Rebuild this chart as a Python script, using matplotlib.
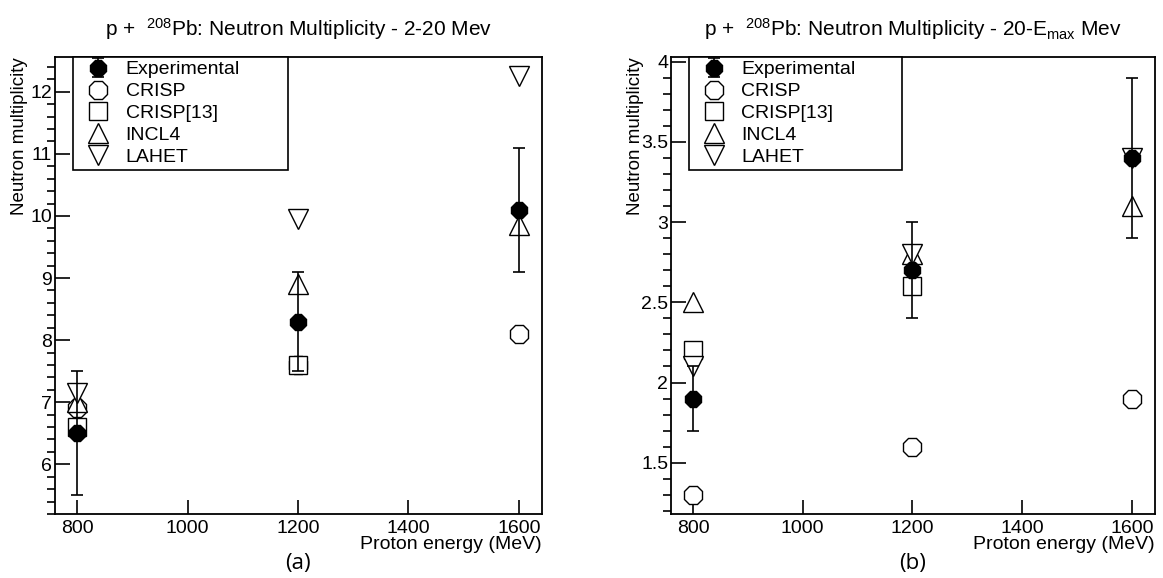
import matplotlib
matplotlib.use('Agg')
import matplotlib.pyplot as plt

plt.rcParams['font.family'] = ['Liberation Sans', 'DejaVu Sans']
plt.rcParams['mathtext.fontset'] = 'custom'
plt.rcParams['mathtext.rm'] = 'Liberation Sans'
plt.rcParams['mathtext.it'] = 'Liberation Sans:italic'

# beam energies (MeV)
energy = [800, 1200, 1600]
energy_crisp13 = [800, 1200]

# (a) 2-20 MeV neutrons
exp_a = [6.5, 8.3, 10.1]
exp_err_a = [1.0, 0.8, 1.0]
crisp_a = [6.9, 7.6, 8.1]
crisp13_a = [6.6, 7.6]
incl4_a = [7.0, 8.9, 9.85]
lahet_a = [7.15, 9.95, 12.25]

# (b) 20-Emax neutrons
exp_b = [1.9, 2.7, 3.4]
exp_err_b = [0.2, 0.3, 0.5]
crisp_b = [1.3, 1.6, 1.9]
crisp13_b = [2.2, 2.6]
incl4_b = [2.5, 2.8, 3.1]
lahet_b = [2.1, 2.8, 3.4]

W, H = 1163, 578
fig = plt.figure(figsize=(W / 100, H / 100), dpi=100)
ax_a = fig.add_axes([55 / W, 1 - 514 / H, 487 / W, 457 / H])
ax_b = fig.add_axes([671 / W, 1 - 514 / H, 484 / W, 457 / H])

ms = 14
open_style = dict(linestyle='none', markerfacecolor='white', markeredgecolor='black',
                  markeredgewidth=1.0, markersize=ms)


def draw_panel(ax, exp, exp_err, crisp, crisp13, incl4, lahet, ylim, major, minor, title):
    ax.plot(energy, crisp, marker='8', label='CRISP', **open_style)
    ax.plot(energy_crisp13, crisp13, marker='s', label='CRISP[13]', **dict(open_style, markersize=ms - 1))
    ax.plot(energy, incl4, marker='^', label='INCL4', **open_style)
    ax.plot(energy, lahet, marker='v', label='LAHET', **open_style)
    ax.errorbar(energy, exp, yerr=exp_err, fmt='8', color='black', markersize=ms - 1,
                ecolor='black', elinewidth=1.2, capsize=4, capthick=1.2, label='Experimental')

    ax.set_xlim(760, 1642)
    ax.set_ylim(*ylim)
    ax.set_xticks([800, 1000, 1200, 1400, 1600])
    ax.yaxis.set_major_locator(matplotlib.ticker.MultipleLocator(major))
    ax.yaxis.set_minor_locator(matplotlib.ticker.MultipleLocator(minor))
    ax.yaxis.set_major_formatter(matplotlib.ticker.FormatStrFormatter('%g'))
    ax.tick_params(axis='both', direction='in', labelsize=14, width=1.2)
    ax.tick_params(axis='y', which='major', length=11, pad=2)
    ax.tick_params(axis='y', which='minor', length=5.5, width=1.2)
    ax.tick_params(axis='x', which='major', length=10, pad=4)
    for s in ax.spines.values():
        s.set_linewidth(1.3)

    ax.set_ylabel('Neutron multiplicity', fontsize=13.5, loc='top')
    ax.yaxis.set_label_coords(-0.055, 1.0)
    ax.set_xlabel('Proton energy (MeV)', fontsize=14, loc='right')
    ax.xaxis.set_label_coords(1.0, -0.048)
    ax.set_title(title, fontsize=15, pad=15)

    handles, labels = ax.get_legend_handles_labels()
    order = [4, 0, 1, 2, 3]
    leg = ax.legend([handles[i] for i in order], [labels[i] for i in order],
                    loc='upper left', bbox_to_anchor=(0.037, 1.0, 0.441, 0.0), mode='expand',
                    fontsize=14, frameon=True, fancybox=False, edgecolor='black',
                    framealpha=1, borderpad=0.2, labelspacing=0.22, handlelength=2.2,
                    handletextpad=0.3, borderaxespad=0, numpoints=1)
    leg.get_frame().set_linewidth(1.2)


draw_panel(ax_a, exp_a, exp_err_a, crisp_a, crisp13_a, incl4_a, lahet_a,
           (5.2, 12.56), 1, 0.2, r'p +  $^{208}$Pb: Neutron Multiplicity - 2-20 Mev')
draw_panel(ax_b, exp_b, exp_err_b, crisp_b, crisp13_b, incl4_b, lahet_b,
           (1.18, 4.03), 0.5, 0.1, r'p +  $^{208}$Pb: Neutron Multiplicity - 20-E$_{\mathrm{max}}$ Mev')

fig.text(298 / W, 1 - 563 / H, '(a)', ha='center', va='center', fontsize=16, family='Open Sans')
fig.text(913 / W, 1 - 563 / H, '(b)', ha='center', va='center', fontsize=16, family='Open Sans')

fig.savefig('out.png', dpi=100)
